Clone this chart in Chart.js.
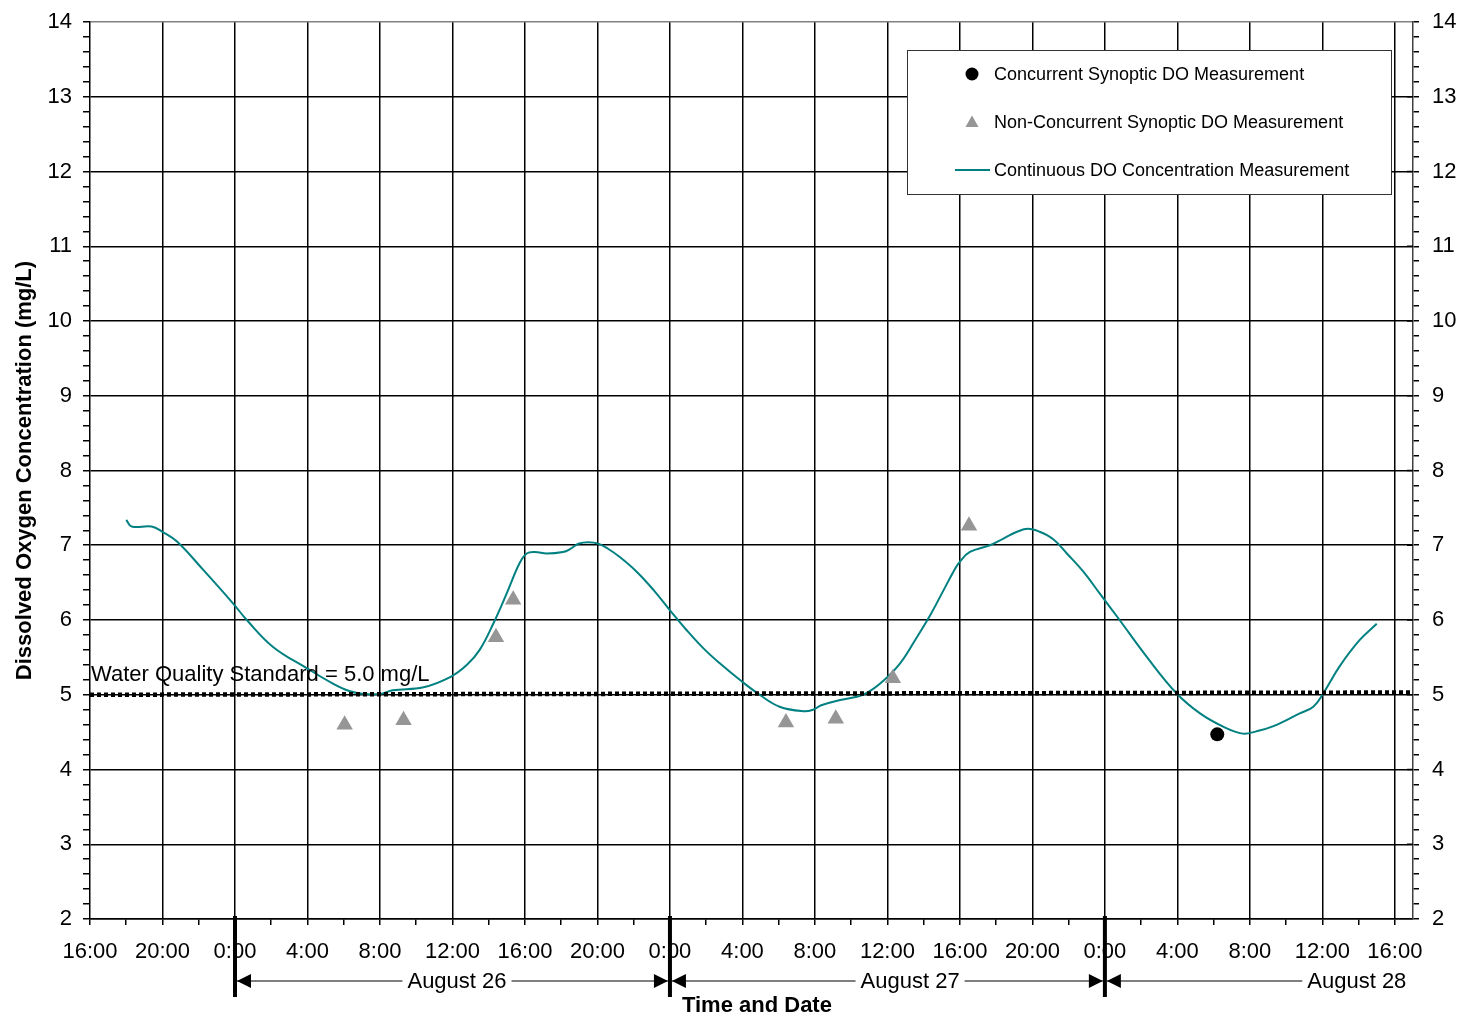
<!DOCTYPE html>
<html>
<head>
<meta charset="utf-8">
<script src="https://cdn.jsdelivr.net/npm/chart.js@4.4.1/dist/chart.umd.min.js"></script>
<style>
  html, body { margin: 0; padding: 0; background: #fff; }
  #wrap { width: 1459px; height: 1016px; }
</style>
</head>
<body>
<div id="wrap"><canvas id="doChart" width="1459" height="1016"></canvas></div>
<script>
// x values are hours since 16:00 on August 25
const tickLabels = ['16:00', '20:00', '0:00', '4:00', '8:00', '12:00', '16:00', '20:00', '0:00', '4:00',
  '8:00', '12:00', '16:00', '20:00', '0:00', '4:00', '8:00', '12:00', '16:00'];

const curveHours = [2.0, 2.3, 3.4, 4.0, 4.8, 6.25, 7.9, 8.65, 10.1, 12.0, 13.4, 14.3, 15.1, 16.0, 16.7,
  18.4, 19.9, 20.8, 21.5, 22.25, 23.0, 23.7, 24.1, 24.55, 25.2, 26.1, 26.5, 26.95, 27.5, 28.05, 28.6,
  29.25, 30.15, 31.1, 32.0, 32.9, 33.85, 34.75, 35.85, 36.95, 38.05, 39.35, 39.9, 40.35, 41.4, 42.65,
  43.6, 44.7, 45.6, 46.35, 47.1, 47.65, 48.0, 48.55, 49.65, 50.4, 51.15, 51.75, 52.4, 53.15, 53.9,
  54.8, 55.7, 56.75, 58.3, 59.95, 61.25, 62.55, 63.6, 64.35, 65.3, 66.75, 67.5, 68.05, 68.95, 70.05, 71.0];
const curveDO = [7.34, 7.25, 7.25, 7.18, 7.05, 6.67, 6.22, 6.00, 5.64, 5.35, 5.15, 5.05, 5.01, 5.01, 5.06,
  5.10, 5.24, 5.40, 5.60, 5.95, 6.36, 6.76, 6.89, 6.91, 6.89, 6.91, 6.95, 7.02, 7.04, 7.02, 6.95,
  6.84, 6.65, 6.40, 6.13, 5.87, 5.62, 5.42, 5.20, 5.00, 4.84, 4.78, 4.80, 4.86, 4.93, 5.00,
  5.15, 5.42, 5.76, 6.06, 6.40, 6.65, 6.78, 6.91, 7.00, 7.09, 7.18, 7.22, 7.18, 7.08, 6.89,
  6.65, 6.36, 6.02, 5.51, 5.02, 4.75, 4.57, 4.48, 4.51, 4.58, 4.75, 4.84, 5.02, 5.38, 5.73, 5.95];

const nonConcHours = [14.05, 17.3, 22.4, 23.35, 38.4, 41.15, 44.3, 48.5];
const nonConcDO = [4.60, 4.66, 5.77, 6.27, 4.63, 4.68, 5.22, 7.26];

const concHours = [62.2];
const concDO = [4.47];

const standardHours = [0, 73];
const standardDO = [5.0, 5.03];

const dayStarts = [8, 32, 56];
const dayLabels = ['August 26', 'August 27', 'August 28'];
const dayLabelHours = [20.25, 45.25, 69.9];

const FONT = "'Liberation Sans', Arial, sans-serif";
Chart.defaults.font.family = FONT;
Chart.defaults.color = '#000';

const toPoints = (xs, ys) => xs.map((h, i) => ({ x: h, y: ys[i] }));
const isWhole = v => Math.abs(v - Math.round(v)) < 1e-6;

const annotations = {
  id: 'annotations',
  afterDraw(chart) {
    const { ctx, chartArea, scales: { x, y, y2 } } = chart;
    ctx.save();

    // standard label
    ctx.fillStyle = '#000';
    ctx.font = '22px ' + FONT;
    ctx.textAlign = 'left';
    ctx.textBaseline = 'alphabetic';
    ctx.fillText('Water Quality Standard = 5.0 mg/L', x.getPixelForValue(0) + 1, y.getPixelForValue(5) - 14);

    // inward part of major ticks on the right axis
    ctx.strokeStyle = '#000';
    ctx.lineWidth = 1.5;
    for (let v = 3; v <= 13; v++) {
      const py = y2.getPixelForValue(v);
      ctx.beginPath();
      ctx.moveTo(y2.left - 6, py);
      ctx.lineTo(y2.left, py);
      ctx.stroke();
    }

    // legend box
    const ds = chart.data.datasets;
    ctx.fillStyle = '#fff';
    ctx.fillRect(907, 50, 485, 145);
    ctx.strokeStyle = '#333';
    ctx.lineWidth = 1;
    ctx.strokeRect(907.5, 50.5, 484, 144);
    ctx.font = '18px ' + FONT;
    ctx.textBaseline = 'middle';
    ctx.fillStyle = '#000';
    ctx.beginPath();
    ctx.arc(972, 74, 6.5, 0, Math.PI * 2);
    ctx.fill();
    ctx.fillText(ds[0].label, 994, 75);
    ctx.fillStyle = ds[1].backgroundColor;
    ctx.beginPath();
    ctx.moveTo(972, 115.5);
    ctx.lineTo(978.5, 127);
    ctx.lineTo(965.5, 127);
    ctx.closePath();
    ctx.fill();
    ctx.fillStyle = '#000';
    ctx.fillText(ds[1].label, 994, 123);
    ctx.strokeStyle = ds[3].borderColor;
    ctx.lineWidth = 2;
    ctx.beginPath();
    ctx.moveTo(955, 170);
    ctx.lineTo(990, 170);
    ctx.stroke();
    ctx.fillText(ds[3].label, 994, 171);

    // day separators and arrows under the axis
    const bottom = chartArea.bottom;
    const rowY = bottom + 62;
    const barX = dayStarts.map(h => x.getPixelForValue(h));
    ctx.strokeStyle = '#000';
    ctx.fillStyle = '#000';
    const arrow = (tipX, dir) => {
      ctx.beginPath();
      ctx.moveTo(tipX, rowY);
      ctx.lineTo(tipX + dir * 14, rowY - 7);
      ctx.lineTo(tipX + dir * 14, rowY + 7);
      ctx.closePath();
      ctx.fill();
    };
    ctx.font = '22px ' + FONT;
    ctx.textAlign = 'center';
    ctx.textBaseline = 'middle';
    dayLabels.forEach((label, i) => {
      const cx = x.getPixelForValue(dayLabelHours[i]);
      const tw = ctx.measureText(label).width;
      const left = barX[i] + 2;
      const right = i + 1 < barX.length ? barX[i + 1] - 2 : cx - tw / 2 - 5;
      ctx.lineWidth = 1.2;
      ctx.beginPath();
      ctx.moveTo(left, rowY);
      ctx.lineTo(cx - tw / 2 - 5, rowY);
      ctx.moveTo(cx + tw / 2 + 5, rowY);
      ctx.lineTo(Math.max(right, cx + tw / 2 + 5), rowY);
      ctx.stroke();
      arrow(left, 1);
      if (i + 1 < barX.length) arrow(right, -1);
      ctx.fillText(label, cx, rowY + 1);
    });
    ctx.lineWidth = 4;
    barX.forEach(bx => {
      ctx.beginPath();
      ctx.moveTo(bx, bottom - 3);
      ctx.lineTo(bx, bottom + 78);
      ctx.stroke();
    });

    // x axis title
    ctx.font = 'bold 22px ' + FONT;
    ctx.fillText('Time and Date', x.getPixelForValue(36.8), bottom + 87);
    ctx.restore();
  }
};

// keep the plot area fixed: no extra room for half-height end labels
const fixVertical = w => s => { s.width = w; s.paddingTop = 0; s.paddingBottom = 0; };

const doChart = new Chart(document.getElementById('doChart').getContext('2d'), {
  type: 'scatter',
  data: {
    datasets: [
      {
        label: 'Concurrent Synoptic DO Measurement',
        data: toPoints(concHours, concDO),
        pointStyle: 'circle',
        pointRadius: 7,
        backgroundColor: '#000',
        borderColor: '#000',
        borderWidth: 0
      },
      {
        label: 'Non-Concurrent Synoptic DO Measurement',
        data: toPoints(nonConcHours, nonConcDO),
        pointStyle: 'triangle',
        pointRadius: 9.5,
        backgroundColor: '#969696',
        borderColor: '#969696',
        borderWidth: 0
      },
      {
        label: 'Water Quality Standard',
        data: toPoints(standardHours, standardDO),
        showLine: true,
        borderColor: '#000',
        borderWidth: 4.5,
        borderDash: [4, 3],
        pointRadius: 0
      },
      {
        label: 'Continuous DO Concentration Measurement',
        data: toPoints(curveHours, curveDO),
        showLine: true,
        borderColor: '#008080',
        borderWidth: 2,
        pointRadius: 0,
        tension: 0.4
      }
    ]
  },
  options: {
    responsive: false,
    animation: false,
    devicePixelRatio: 1,
    layout: { padding: { top: 22, left: 0, right: 0, bottom: 0 } },
    plugins: { legend: { display: false }, tooltip: { enabled: false } },
    scales: {
      x: {
        type: 'linear',
        position: 'bottom',
        min: 0,
        max: 73,
        afterFit(s) { s.height = 97; s.paddingLeft = 0; s.paddingRight = 0; },
        ticks: {
          stepSize: 2,
          autoSkip: false,
          includeBounds: false,
          maxRotation: 0,
          padding: 14,
          font: { size: 22 },
          callback: v => (v % 4 === 0 ? tickLabels[v / 4] : '')
        },
        grid: {
          color: c => (c.tick && c.tick.value % 4 === 0 && c.tick.value > 0 ? '#000' : 'transparent'),
          tickColor: '#000',
          tickLength: 6,
          lineWidth: 1.5
        },
        border: { color: '#000', width: 1.5 }
      },
      y: {
        type: 'linear',
        position: 'left',
        min: 2,
        max: 14,
        afterFit: fixVertical(90),
        ticks: {
          stepSize: 0.2,
          autoSkip: false,
          includeBounds: false,
          padding: 11,
          font: { size: 22 },
          callback: v => (isWhole(v) ? String(Math.round(v)) : '')
        },
        grid: {
          color: c => {
            const v = c.tick ? c.tick.value : 0;
            if (!isWhole(v)) return 'transparent';
            return Math.round(v) === 14 ? '#808080' : '#000';
          },
          tickColor: '#000',
          tickLength: 7,
          lineWidth: 1.5
        },
        border: { color: '#000', width: 1.5 },
        title: {
          display: true,
          text: 'Dissolved Oxygen Concentration (mg/L)',
          font: { size: 22, weight: 'bold' },
          padding: { top: 12, bottom: 0 }
        }
      },
      y2: {
        type: 'linear',
        position: 'right',
        min: 2,
        max: 14,
        afterFit: fixVertical(46),
        ticks: {
          stepSize: 0.2,
          autoSkip: false,
          includeBounds: false,
          padding: 13,
          font: { size: 22 },
          callback: v => (isWhole(v) ? String(Math.round(v)) : '')
        },
        grid: { drawOnChartArea: false, tickColor: '#000', tickLength: 6, lineWidth: 1.5 },
        border: { color: '#404040', width: 1.5 }
      }
    }
  },
  plugins: [annotations]
});
</script>
</body>
</html>
